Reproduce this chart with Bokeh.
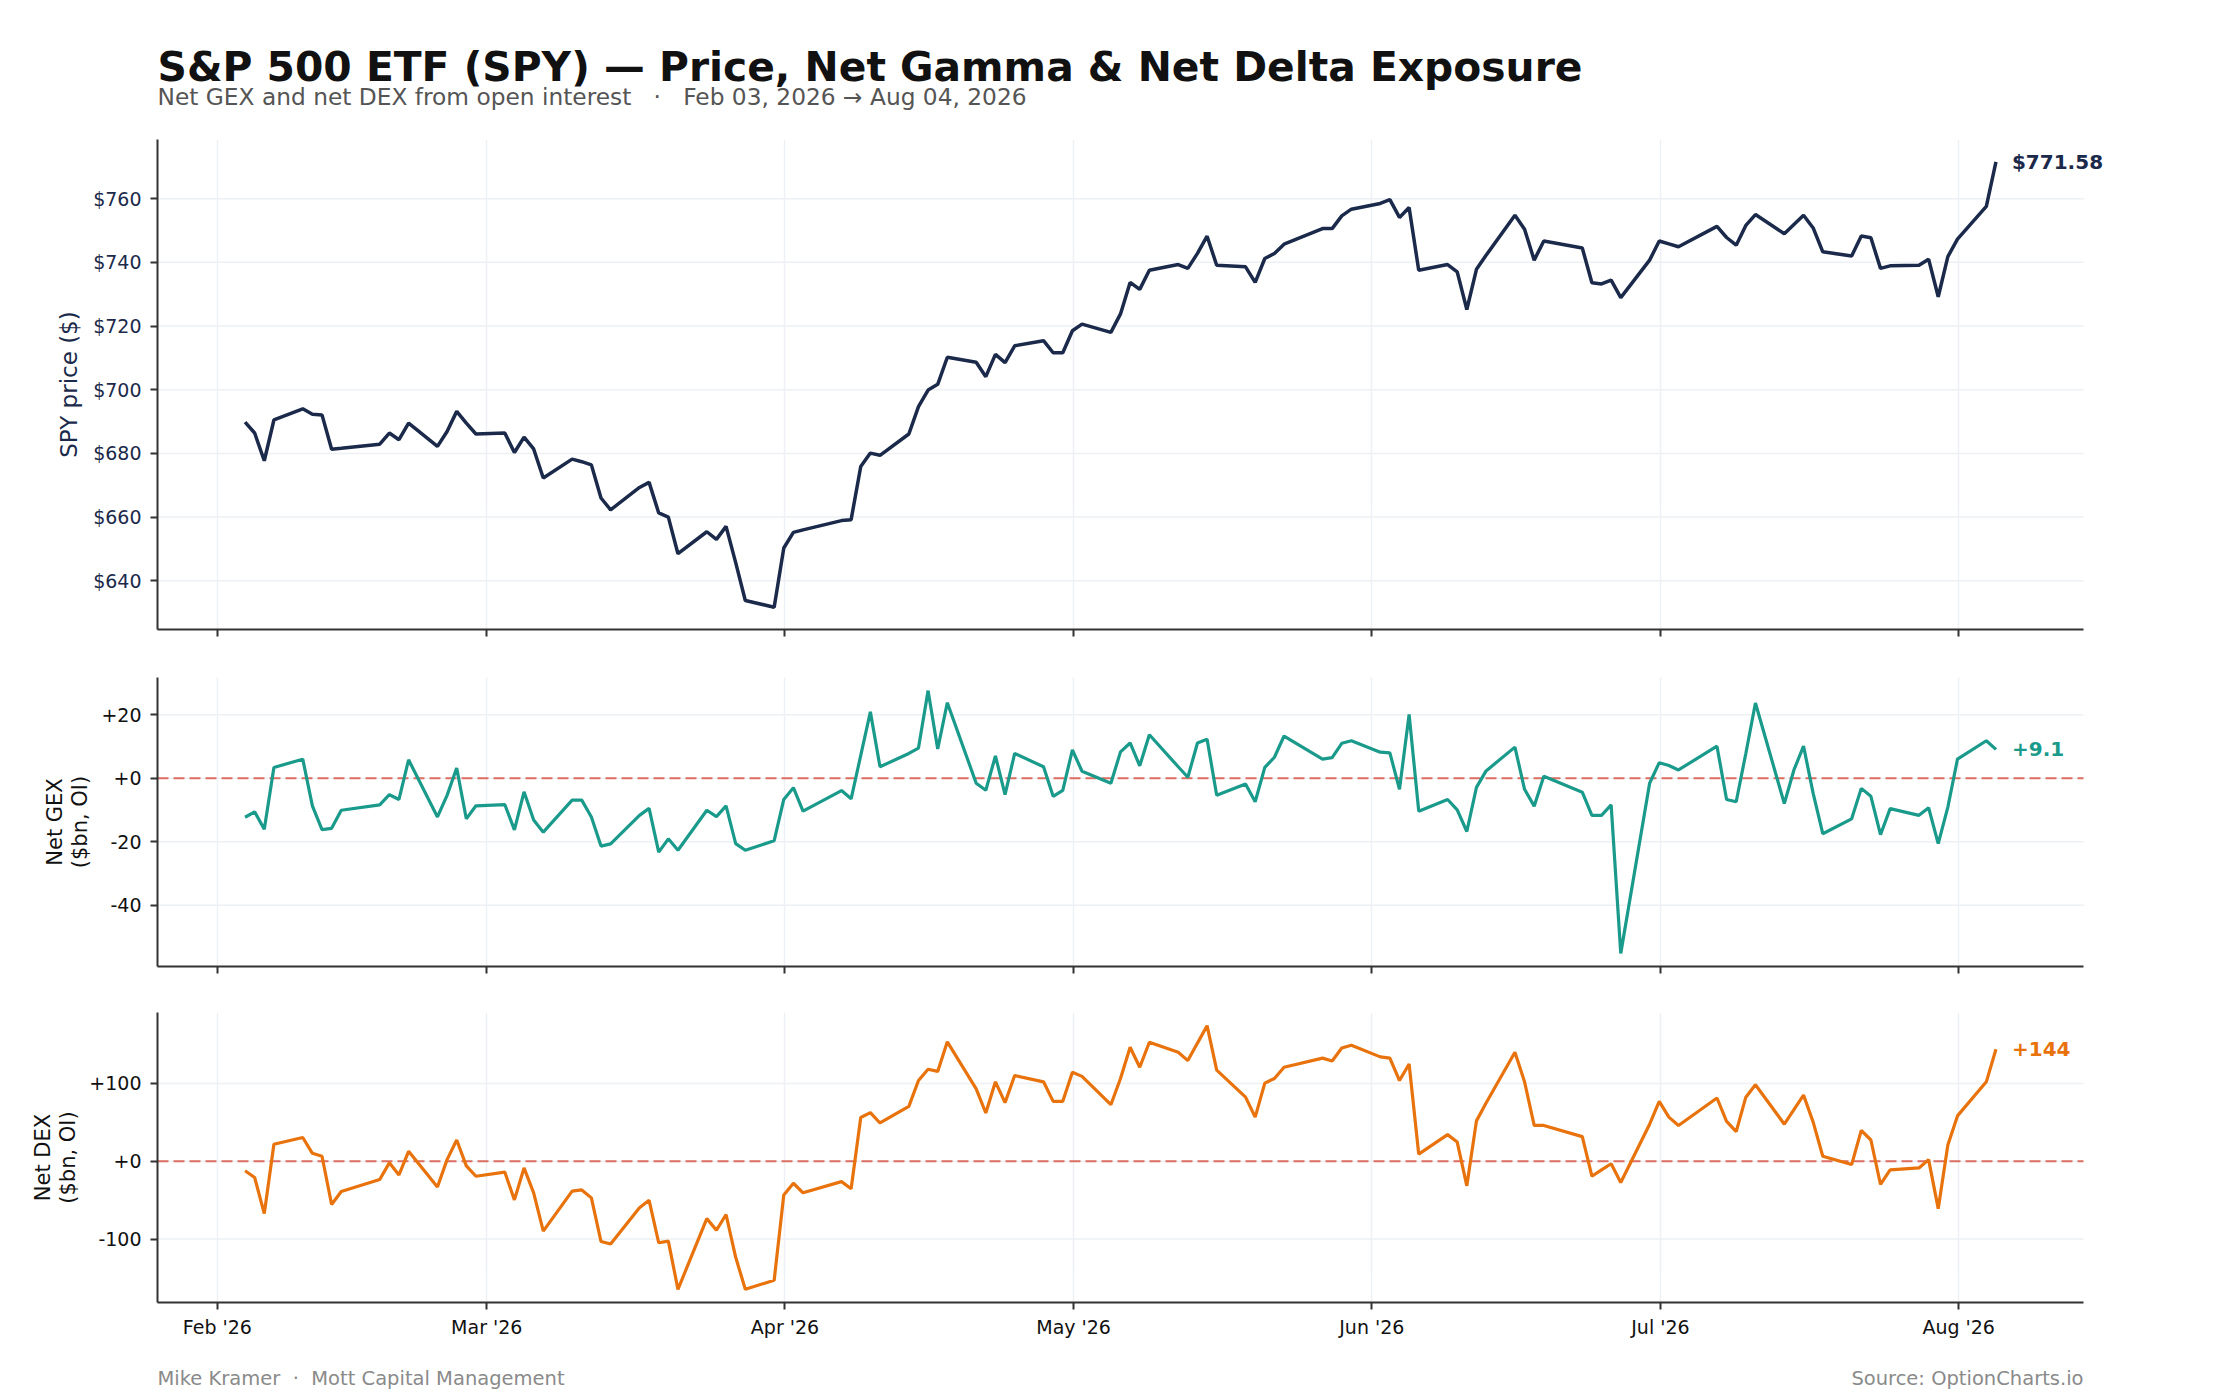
import pandas as pd
from bokeh.plotting import figure
from bokeh.layouts import column
from bokeh.models import (Range1d, FixedTicker, CustomJSTickFormatter,
                          DatetimeTickFormatter, Label)
from bokeh.embed import file_html
from bokeh.resources import INLINE

# trading days, Feb 03 -> Aug 04 2026 (NYSE holidays removed), stamped at the close
holidays = ["2026-02-16", "2026-04-03", "2026-05-25", "2026-06-19", "2026-07-03"]
dates = pd.bdate_range("2026-02-03", "2026-08-04", freq="C", holidays=holidays)
close_time = dates + pd.Timedelta(hours=21)

# SPY close ($), one line per month
price = [
    689.8, 686.4, 677.7, 690.5, 694.0, 692.3, 692.1, 681.3, 681.6, 682.9, 686.4, 684.3, 689.5, 682.2, 686.9, 693.2, 689.5, 686.1,
    686.4, 680.3, 685.1, 681.4, 672.3, 678.2, 677.4, 676.4, 666.0, 662.3, 669.3, 670.9, 661.3, 660.0, 648.5, 655.4, 653.0, 657.1, 645.7, 633.8, 631.7, 650.3,
    655.2, 656.0, 658.9, 659.2, 675.9, 680.1, 679.4, 686.1, 694.7, 699.9, 701.7, 710.2, 708.6, 704.1, 711.1, 708.5, 713.8, 715.4, 711.6, 711.6, 718.5,
    720.6, 718.0, 723.8, 733.7, 731.5, 737.5, 739.3, 738.1, 742.8, 748.2, 739.1, 738.6, 733.7, 741.2, 742.8, 745.7, 750.6, 750.6, 754.6, 756.7,
    758.5, 759.7, 754.1, 757.2, 737.5, 739.3, 737.0, 725.2, 737.8, 742.2, 754.8, 750.4, 740.7, 746.7, 744.5, 733.6, 733.2, 734.4, 728.9, 740.7, 746.7,
    745.8, 744.9, 751.3, 747.8, 745.4, 751.6, 755.0, 749.0, 751.9, 754.8, 750.8, 743.3, 742.0, 748.3, 747.7, 738.1, 738.9, 739.1, 741.0, 729.2, 741.8, 747.3,
    757.6, 771.58,
]

# net gamma exposure ($bn, OI)
gex = [
    -12.3, -10.6, -16.1, 3.4, 6.0, -8.7, -16.2, -15.8, -10.1, -8.4, -5.2, -6.7, 5.8, -12.2, -5.4, 3.2, -12.8, -8.7,
    -8.3, -16.3, -4.3, -13.2, -17.0, -6.9, -6.9, -12.2, -21.4, -20.7, -11.7, -9.5, -23.3, -19.1, -22.7, -10.1, -12.1, -8.7, -20.6, -22.7, -19.7, -6.7,
    -3.0, -10.4, -3.9, -6.5, 7.2, 20.9, 3.6, 7.8, 9.5, 27.6, 9.2, 23.8, -1.6, -3.8, 7.0, -5.2, 7.8, 3.6, -5.7, -3.8, 8.9,
    2.2, -1.6, 8.3, 11.1, 3.9, 13.7, 3.6, 0.3, 11.1, 12.3, -5.4, -1.8, -7.4, 3.4, 6.6, 13.3, 6.0, 6.5, 11.0, 11.8,
    8.2, 8.0, -3.5, 20.1, -10.4, -6.7, -10.0, -16.8, -2.9, 2.3, 9.8, -3.5, -8.8, 0.6, -4.4, -11.7, -11.7, -8.4, -55.2, -1.6, 4.9,
    4.0, 2.6, 10.1, -6.7, -7.4, 7.8, 23.7, -8.0, 2.6, 10.1, -4.8, -17.5, -12.8, -3.2, -5.7, -17.8, -9.6, -11.7, -9.3, -20.6, -9.1, 6.0,
    11.8, 9.1,
]

# net delta exposure ($bn, OI)
dex = [
    -12.3, -20.9, -67.4, 21.9, 30.5, 10.2, 6.4, -55.6, -39.0, -23.5, -2.1, -17.6, 12.8, -33.2, 2.1, 27.3, -5.9, -19.3,
    -13.9, -49.7, -8.6, -40.6, -89.8, -38.5, -36.9, -47.1, -103.2, -106.4, -59.9, -50.3, -104.8, -102.7, -164.7, -73.8, -88.8, -68.5, -123.5, -164.7, -153.0, -43.3,
    -28.3, -40.6, -26.2, -35.3, 56.2, 62.6, 49.2, 70.6, 103.8, 118.2, 115.5, 153.5, 93.1, 62.0, 102.1, 75.4, 110.2, 102.1, 77.0, 77.0, 114.4,
    109.1, 72.7, 106.4, 146.5, 120.9, 153.0, 140.1, 129.4, 151.9, 174.3, 117.1, 82.4, 56.7, 100.5, 106.4, 120.9, 132.6, 128.9, 145.5, 149.2,
    134.2, 132.6, 103.8, 125.0, 9.1, 34.2, 24.6, -31.6, 51.9, 74.9, 140.1, 102.1, 46.0, 46.0, 31.6, -19.3, -11.2, -3.2, -27.3, 47.6, 77.0,
    56.7, 46.0, 81.3, 51.3, 38.0, 82.4, 98.4, 47.6, 66.3, 85.0, 50.3, 6.4, -4.3, 39.6, 27.3, -29.9, -11.2, -8.6, 2.1, -61.0, 20.9, 58.3,
    102.1, 144.0,
]

price_ticks = [640, 660, 680, 700, 720, 740, 760]
gex_ticks = [-40, -20, 0, 20]
dex_ticks = [-100, 0, 100]
month_ticks = [pd.Timestamp(f"2026-{m:02d}-01").value / 1e6 for m in range(2, 9)]

NAVY = "#1b2a4a"
TEAL = "#1a9a8b"
ORANGE = "#e8720c"
ZERO = "#dc6e62"
GRID = "#edf0f4"
FONT = "DejaVu Sans"
NB = "\u00a0"

LEFT = 157      # frame left edge on the page
AXIS_W = 1926   # width of the plotted axes
FW = 1955       # frame width (extra room on the right for the end labels)
RIGHT = 120


def pad(vals, frac=0.05):
    lo, hi = min(vals), max(vals)
    d = (hi - lo) * frac
    return Range1d(lo - d, hi + d)


t0 = close_time[0].value / 1e6
t1 = close_time[-1].value / 1e6
x_lo = t0 - (t1 - t0) * 0.05
x_hi = t1 + (t1 - t0) * 0.05
xr = Range1d(x_lo, x_lo + (x_hi - x_lo) * FW / AXIS_W)


def blank(fh):
    p = figure(x_range=(0, 1), y_range=(0, 1), frame_width=FW, frame_height=fh,
               min_border_left=LEFT, min_border_right=RIGHT,
               min_border_top=0, min_border_bottom=0,
               x_axis_location=None, y_axis_location=None,
               output_backend="svg", toolbar_location=None)
    p.outline_line_color = None
    p.grid.visible = False
    return p


def panel(fh, top, bottom, yr, yticks):
    p = figure(x_axis_type="datetime", x_range=xr, y_range=yr,
               frame_width=FW, frame_height=fh,
               min_border_left=LEFT, min_border_right=RIGHT,
               min_border_top=top, min_border_bottom=bottom,
               output_backend="svg", toolbar_location=None)
    p.outline_line_color = None
    p.background_fill_color = "white"
    p.border_fill_color = "white"
    p.xgrid.grid_line_color = GRID
    p.xgrid.grid_line_width = 1.5
    p.ygrid.visible = False
    # horizontal grid lines stop where the x axis stops
    p.segment(x0=[x_lo] * len(yticks), y0=yticks, x1=[x_hi] * len(yticks), y1=yticks,
              line_color=GRID, line_width=1.5, level="underlay")
    p.xaxis.ticker = FixedTicker(ticks=month_ticks)
    p.xaxis.bounds = (x_lo, x_hi)
    p.yaxis.ticker = FixedTicker(ticks=yticks)
    for ax in (p.xaxis, p.yaxis):
        ax.axis_line_color = "#333333"
        ax.axis_line_width = 2
        ax.major_tick_line_color = "#333333"
        ax.major_tick_line_width = 2
        ax.major_tick_out = 7
        ax.major_tick_in = 0
        ax.minor_tick_line_color = None
        ax.major_label_text_font = FONT
        ax.major_label_text_font_size = "19px"
        ax.major_label_text_color = "#111111"
        ax.axis_label_text_font = FONT
        ax.axis_label_text_font_style = "normal"
        ax.axis_label_text_font_size = "21px"
        ax.axis_label_text_color = "#111111"
        ax.axis_label_text_line_height = 1.05
    p.yaxis.major_label_standoff = 9
    p.yaxis.axis_label_standoff = 6
    p.xaxis.major_label_standoff = 6
    return p


def end_label(p, y, text, color):
    p.add_layout(Label(x=t1, y=y, text=text, x_offset=16, text_baseline="middle",
                       text_font=FONT, text_font_style="bold",
                       text_font_size="20px", text_color=color))


def zero_line(p):
    p.segment(x0=x_lo, y0=0, x1=x_hi, y1=0, line_color=ZERO,
              line_width=2, line_dash="11 5")


# --- header
head = blank(139)
head.add_layout(Label(x=0, y=72.5, x_units="screen", y_units="screen",
                      text="S&P 500 ETF (SPY) \u2014 Price, Net Gamma & Net Delta Exposure",
                      text_baseline="alphabetic", text_font=FONT, text_font_style="bold",
                      text_font_size="40.8px", text_color="#111111"))
head.add_layout(Label(x=0, y=43, x_units="screen", y_units="screen",
                      text=f"Net GEX and net DEX from open interest{NB * 3}\u00b7{NB * 3}Feb 03, 2026 \u2192 Aug 04, 2026",
                      text_baseline="alphabetic", text_font=FONT,
                      text_font_size="23.3px", text_color="#555555"))

# --- price panel
p1 = panel(490, 0, 24, pad(price), price_ticks)
p1.line(close_time, price, line_color=NAVY, line_width=3.5)
p1.yaxis.formatter = CustomJSTickFormatter(code="return '$' + tick.toFixed(0);")
p1.yaxis.major_label_text_color = NAVY
p1.yaxis.axis_label = "SPY price ($)"
p1.yaxis.axis_label_text_color = NAVY
p1.yaxis.axis_label_text_font_size = "23px"
p1.yaxis.axis_label_standoff = 8
p1.xaxis.formatter = CustomJSTickFormatter(code="return '';")
end_label(p1, price[-1], f"${price[-1]:.2f}", NAVY)

signed = CustomJSTickFormatter(code="return (tick >= 0 ? '+' : '') + tick.toFixed(0);")

# --- net GEX panel
p2 = panel(289, 24, 23, pad(gex), gex_ticks)
zero_line(p2)
p2.line(close_time, gex, line_color=TEAL, line_width=3.2)
p2.yaxis.formatter = signed
p2.yaxis.axis_label = "Net GEX\n($bn, OI)"
p2.xaxis.formatter = CustomJSTickFormatter(code="return '';")
end_label(p2, gex[-1], f"{gex[-1]:+.1f}", TEAL)

# --- net DEX panel
p3 = panel(290, 23, 48, pad(dex), dex_ticks)
zero_line(p3)
p3.line(close_time, dex, line_color=ORANGE, line_width=3.2)
p3.yaxis.formatter = signed
p3.yaxis.axis_label = "Net DEX\n($bn, OI)"
p3.xaxis.formatter = DatetimeTickFormatter(months="%b '%y", days="%b '%y")
end_label(p3, dex[-1], f"{dex[-1]:+.0f}", ORANGE)

# --- footer
foot = blank(42)
foot.add_layout(Label(x=0, y=14, x_units="screen", y_units="screen",
                      text=f"Mike Kramer{NB * 2}\u00b7{NB * 2}Mott Capital Management",
                      text_baseline="alphabetic", text_font=FONT,
                      text_font_size="19.5px", text_color="#8a8a8a"))
foot.add_layout(Label(x=AXIS_W, y=14, x_units="screen", y_units="screen",
                      text="Source: OptionCharts.io", text_align="right",
                      text_baseline="alphabetic", text_font=FONT,
                      text_font_size="19.5px", text_color="#8a8a8a"))

p = column(head, p1, p2, p3, foot)
open("out.html", "w").write(file_html(p, INLINE))
